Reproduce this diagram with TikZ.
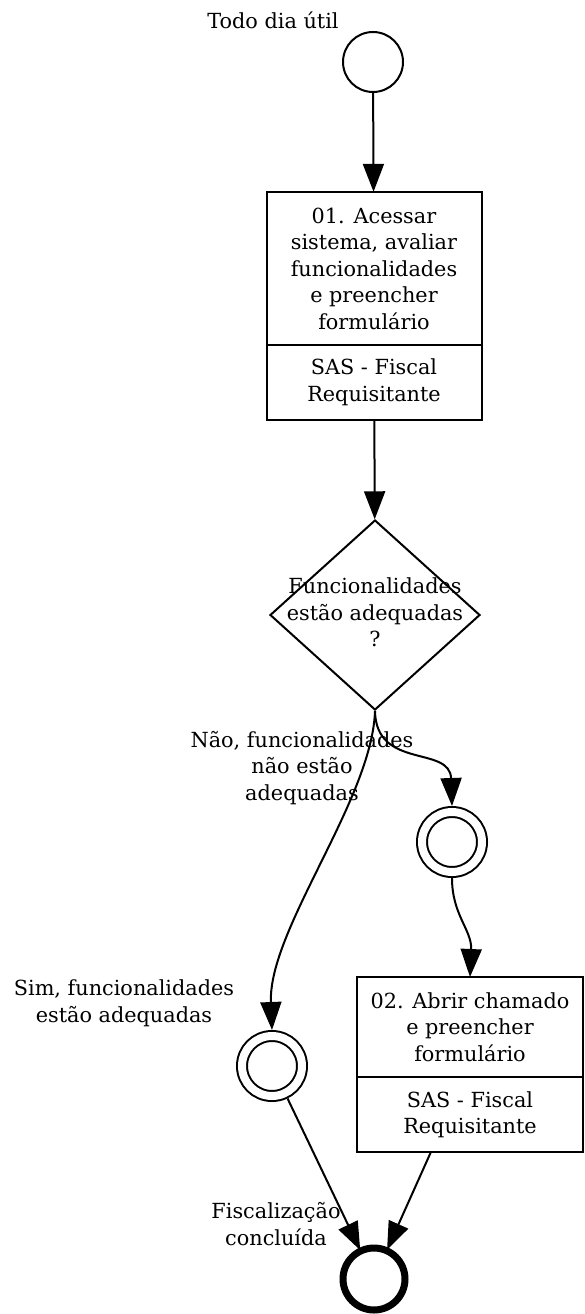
\documentclass[tikz,border=0pt]{standalone}
\usepackage{fontspec}
\setmainfont{DejaVu Serif}
\usetikzlibrary{arrows.meta, positioning, shapes.geometric, fit}

\begin{document}
\begin{tikzpicture}[x=1pt, y=-1pt,
        font=\fontsize{20.8}{26.5}\selectfont,
        event/.style={draw, circle, line width=2pt,
                      minimum size=60pt, inner sep=0pt},
        catch/.style={draw, circle, line width=2pt, double,
                      double distance=8pt, minimum size=60pt,
                      inner sep=0pt, outer sep=6pt},
        endevent/.style={draw, circle, line width=7pt,
                         minimum size=62pt, inner sep=0pt, outer sep=1pt},
        task/.style={draw, line width=2pt, minimum width=215pt,
                     minimum height=153pt, align=center,
                     inner sep=0pt, outer sep=0pt},
        lane/.style={task, minimum height=75pt},
        gateway/.style={draw, diamond, line width=2pt,
                        minimum width=210pt, minimum height=190pt,
                        inner sep=0pt},
        flow/.style={line width=2pt, -{Triangle[length=28pt, width=21pt]}},
        lbl/.style={align=center, inner sep=0pt},
      ]
        \useasboundingbox (0,0) rectangle (584,1314);

        % events and tasks
        \node[event] (start) at (373,62) {};
        \node[lbl] (startlbl) at (273,20) {Todo dia útil};

        \node[task] (act1) at (374,268.5)
            {01. Acessar\\sistema, avaliar\\funcionalidades\\e preencher\\formulário};
        \node[lane, below=0pt of act1] (act1who) {SAS - Fiscal\\Requisitante};
        \node[fit=(act1)(act1who), inner sep=0pt] (box1) {};

        \node[gateway] (gate) at (375,615)
            {\makebox[0pt]{\begin{tabular}{@{}c@{}}Funcionalidades\\estão adequadas\\?\end{tabular}}};

        \node[catch] (nao) at (452,842) {};
        \node[catch] (sim) at (272,1066) {};

        \node[task, minimum width=226pt, minimum height=100pt] (act2) at (470,1027)
            {02. Abrir chamado\\e preencher\\formulário};
        \node[lane, minimum width=226pt, below=0pt of act2] (act2who) {SAS - Fiscal\\Requisitante};
        \node[fit=(act2)(act2who), inner sep=0pt] (box2) {};

        \node[endevent] (fim) at (374,1279) {};

        % labels
        \node[lbl] (naolbl) at (302,768) {Não, funcionalidades\\não estão\\adequadas};
        \node[lbl] (simlbl) at (124,1003) {Sim, funcionalidades\\estão adequadas};
        \node[lbl] (fimlbl) at (276,1224) {Fiscalização\\concluída};

        % flows
        \draw[flow] (start) -- (box1);
        \draw[flow] (box1) -- (gate);
        \draw[flow] (gate.south) .. controls (372,800) and (268,930) .. (sim.north);
        \draw[flow] (gate.south) .. controls (376,770) and (450,745) .. (nao.north);
        \draw[flow] (nao.south) .. controls (452,915) and (472,930) .. (act2.north);
        \draw[flow] (sim) -- (fim);
        \draw[flow] (box2) -- (fim);
      \end{tikzpicture}
\end{document}
